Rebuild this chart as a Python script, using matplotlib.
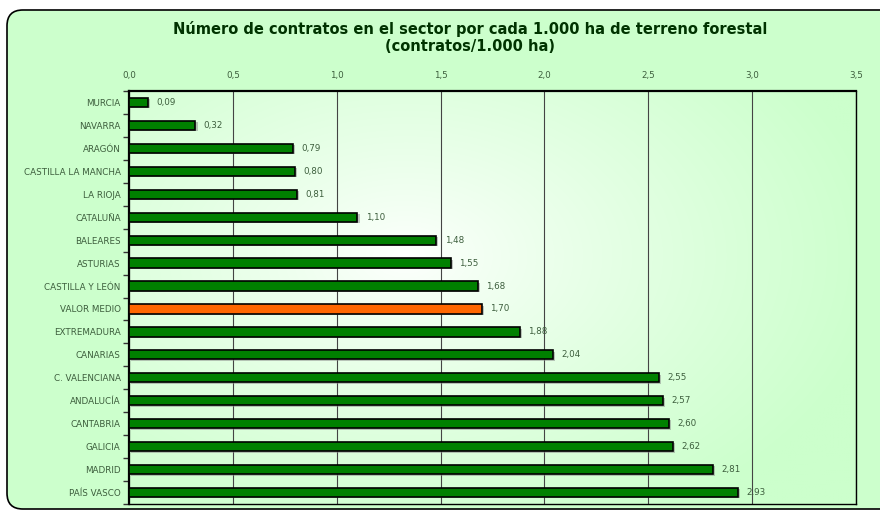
import numpy as np
import matplotlib
matplotlib.use("Agg")
import matplotlib.pyplot as plt
from matplotlib.patches import FancyBboxPatch

regiones = ["MURCIA", "NAVARRA", "ARAGÓN", "CASTILLA LA MANCHA", "LA RIOJA",
            "CATALUÑA", "BALEARES", "ASTURIAS", "CASTILLA Y LEÓN", "VALOR MEDIO",
            "EXTREMADURA", "CANARIAS", "C. VALENCIANA", "ANDALUCÍA", "CANTABRIA",
            "GALICIA", "MADRID", "PAÍS VASCO"]
valores = [0.09, 0.32, 0.79, 0.80, 0.81, 1.10, 1.48, 1.55, 1.68, 1.70,
           1.88, 2.04, 2.55, 2.57, 2.60, 2.62, 2.81, 2.93]
ticks_x = [0.0, 0.5, 1.0, 1.5, 2.0, 2.5, 3.0, 3.5]

verde = "#008000"
naranja = "#ff6600"
fondo = "#ccffcc"
texto = "#3d5e3d"

fig = plt.figure(figsize=(8.8, 5.11), dpi=100)
fig.patch.set_facecolor("white")

# marco redondeado del grafico
marco = FancyBboxPatch((7 / 880, 2 / 511), 900 / 880, 499 / 511,
                       boxstyle="round,pad=0,rounding_size=0.018",
                       transform=fig.transFigure, facecolor=fondo,
                       edgecolor="black", linewidth=1.2, zorder=-5,
                       mutation_aspect=880 / 511)
fig.patches.append(marco)

ax = fig.add_axes([129 / 880, 7 / 511, 727 / 880, 413 / 511])
ax.set_facecolor("none")
ax.set_zorder(2)

# degradado del area de trazado (blanco hacia el centro, verde en los bordes)
gx, gy = np.meshgrid(np.linspace(0, 1, 300), np.linspace(1, 0, 200))
r = np.sqrt(((gx - 0.38) / 0.66) ** 2 + ((gy - 0.6) / 0.75) ** 2)
r = np.clip(r, 0, 1) ** 0.8
c0 = np.array([1.0, 1.0, 1.0])
c1 = np.array([0.80, 1.0, 0.80])
img = c0[None, None, :] * (1 - r[..., None]) + c1[None, None, :] * r[..., None]
ax.imshow(img, extent=[0, 1, 0, 1], transform=ax.transAxes, aspect="auto",
          zorder=0, interpolation="bilinear")

y = np.arange(len(regiones))
colores = [naranja if g == "VALOR MEDIO" else verde for g in regiones]
ax.barh(y + 0.06, valores, height=0.4, left=0.01, color="#888888", alpha=0.5,
        zorder=2, linewidth=0)
ax.barh(y, valores, height=0.4, color=colores, edgecolor="black",
        linewidth=1.2, zorder=3)

for yi, v in zip(y, valores):
    ax.text(v + 0.04, yi, f"{v:.2f}".replace(".", ","), va="center",
            ha="left", fontsize=6.3, color=texto, zorder=4)

ax.set_xlim(0, 3.5)
ax.set_ylim(len(regiones) - 0.5, -0.5)
ax.set_xticks(ticks_x)
ax.set_xticklabels([f"{t:.1f}".replace(".", ",") for t in ticks_x])
ax.xaxis.tick_top()
ax.tick_params(axis="x", length=0, pad=8, labelsize=6.3, labelcolor=texto)

ax.set_yticks(y)
ax.set_yticklabels(regiones)
ax.set_yticks(np.arange(len(regiones) + 1) - 0.5, minor=True)
ax.tick_params(axis="y", which="major", length=0, pad=6, labelsize=6.3,
               labelcolor=texto)
ax.tick_params(axis="y", which="minor", length=4, width=1, direction="out",
               color="#333333")

ax.grid(axis="x", color="#444444", linewidth=0.8, zorder=1)
ax.set_axisbelow(True)
for s in ax.spines.values():
    s.set_color("black")
    s.set_linewidth(1.0)
ax.spines["left"].set_linewidth(1.6)
ax.spines["top"].set_linewidth(1.6)

fig.text(470 / 880, 1 - 21 / 511,
         "Número de contratos en el sector por cada 1.000 ha de terreno forestal\n(contratos/1.000 ha)",
         ha="center", va="top", fontsize=10.5, fontweight="bold",
         color="#003300", linespacing=1.15)

fig.savefig("out.png", dpi=100, facecolor=fig.get_facecolor())
